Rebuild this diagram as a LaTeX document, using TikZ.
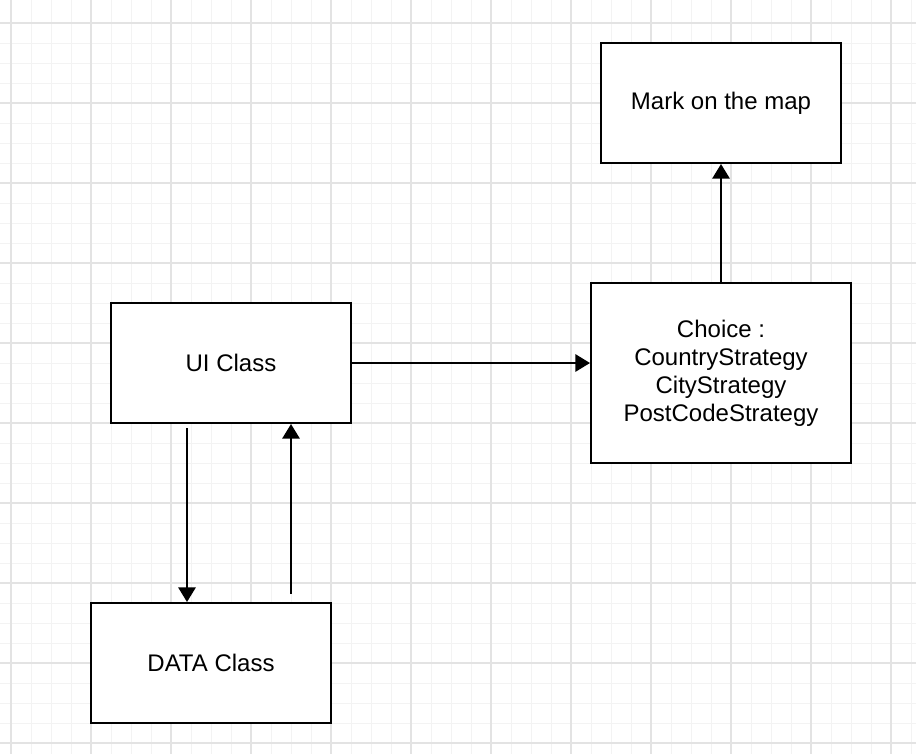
\documentclass[tikz,border=0pt]{standalone}
\usepackage{fontspec}
\setmainfont{Liberation Sans}
\usetikzlibrary{arrows.meta}

\definecolor{gridminor}{HTML}{F3F3F3}
\definecolor{gridmajor}{HTML}{E3E3E3}

\tikzset{
	classbox/.style={draw=black,line width=1.5pt,fill=white,minimum width=180pt,minimum height=90pt,align=center,font=\fontsize{18}{21}\selectfont,inner sep=0pt},
	link/.style={line width=1.5pt,-{Triangle[length=11pt,width=13pt]}}
}

\begin{document}
\begin{tikzpicture}[x=0.75pt,y=-0.75pt]
			\useasboundingbox[fill=white] (0,0) rectangle (916,754);

			% background grid
			\foreach \x in {11,31,...,911} \draw[gridminor,line width=0.75pt] (\x,0) -- (\x,754);
			\foreach \y in {23,43,...,743} \draw[gridminor,line width=0.75pt] (0,\y) -- (916,\y);
			\foreach \x in {11,91,...,891} \draw[gridmajor,line width=0.9pt] (\x,0) -- (\x,754);
			\foreach \y in {23,103,...,743} \draw[gridmajor,line width=0.9pt] (0,\y) -- (916,\y);

			% classes
			\node[classbox] (ui) at (231,363) {UI Class};
			\node[classbox] (data) at (211,663) {DATA Class};
			\node[classbox,minimum width=195pt,minimum height=135pt] (choice) at (721,373) {
				Choice :\\
				CountryStrategy\\
				CityStrategy\\
				PostCodeStrategy
			};
			\node[classbox] (mark) at (721,103) {Mark on the map};

			% UI -> strategy
			\draw[link] (ui.east) -- (ui.east -| choice.west);

			% UI <-> data
			\draw[link,shorten <=3pt] ([xshift=-33pt]ui.south) -- ([xshift=-33pt]ui.south |- data.north);
			\draw[link,shorten <=6pt] ([xshift=60pt]data.north) -- ([xshift=60pt]data.north |- ui.south);

			% strategy -> map
			\draw[link] (choice.north) -- (mark.south);
		\end{tikzpicture}
\end{document}
